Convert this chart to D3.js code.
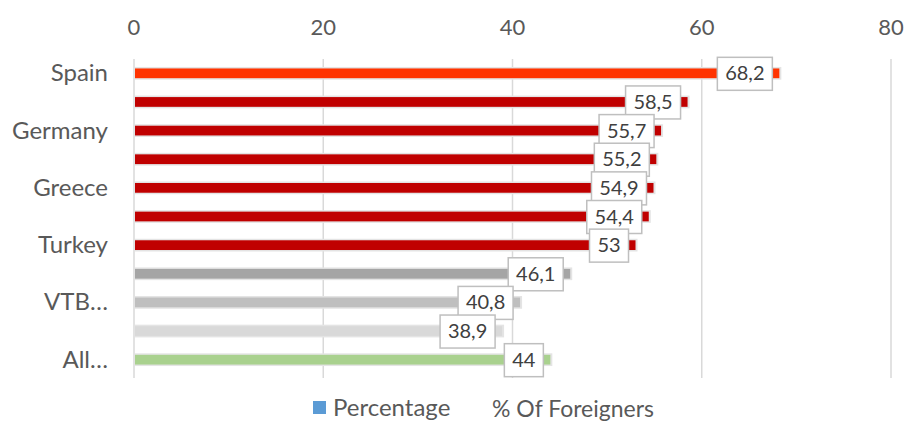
<html>
<script src="https://d3js.org/d3.v7.min.js"></script>
<style>
body { margin: 0; background: white; }
text { font-family: Lato, "Open Sans", sans-serif; fill: #595959; }
</style>
<body>
<svg width="906" height="423"></svg>
<script>
// chart data
var categories = ["Spain", "Italy", "Germany", "France", "Greece", "Israel", "Turkey", "Russia", "VTB…", "Lithuania", "All…"];
var showLabel = [true, false, true, false, true, false, true, false, true, false, true];
var values = [68.2, 58.5, 55.7, 55.2, 54.9, 54.4, 53, 46.1, 40.8, 38.9, 44];
var labels = ["68,2", "58,5", "55,7", "55,2", "54,9", "54,4", "53", "46,1", "40,8", "38,9", "44"];
var colors = ["#ff3300", "#c00000", "#c00000", "#c00000", "#c00000", "#c00000", "#c00000", "#a5a5a5", "#bfbfbf", "#d9d9d9", "#a9d18e"];
var xTicks = [0, 20, 40, 60, 80];

var data = categories.map(function(c, i) {
  return {name: c, show: showLabel[i], value: values[i], label: labels[i], color: colors[i]};
});

var svg = d3.select("svg");

var x = d3.scaleLinear().domain([0, 80]).range([134, 891]);
var y = d3.scaleBand().domain(categories).range([59, 374]).paddingInner(0.66).paddingOuter(0.33);

// gridlines
svg.append("g").selectAll("line")
  .data(xTicks)
  .enter().append("line")
    .attr("x1", d => x(d)).attr("x2", d => x(d))
    .attr("y1", 59).attr("y2", 378)
    .style("stroke", "#d9d9d9")
    .style("stroke-width", 1.5);

// top tick labels
svg.append("g").selectAll("text")
  .data(xTicks)
  .enter().append("text")
    .attr("x", d => x(d))
    .attr("y", 35)
    .attr("text-anchor", "middle")
    .style("font-size", "22px")
    .text(d => d);

// category labels
svg.append("g").selectAll("text")
  .data(data.filter(d => d.show))
  .enter().append("text")
    .attr("x", 108)
    .attr("y", d => y(d.name) + y.bandwidth() / 2 + 8)
    .attr("text-anchor", "end")
    .style("font-size", "24px")
    .text(d => d.name);

// bars with faint glow
var bars = svg.append("g");
bars.selectAll("rect.glow")
  .data(data)
  .enter().append("rect")
    .attr("x", x(0) + 1)
    .attr("y", d => y(d.name) - 1.5)
    .attr("width", d => x(d.value) - x(0) + 1)
    .attr("height", y.bandwidth() + 3)
    .attr("fill", "#e4e4e4");
bars.selectAll("rect.bar")
  .data(data)
  .enter().append("rect")
    .attr("x", x(0) + 1)
    .attr("y", d => y(d.name))
    .attr("width", d => x(d.value) - x(0) - 1)
    .attr("height", y.bandwidth())
    .attr("fill", d => d.color);

// data labels in boxes
var lab = svg.append("g").selectAll("g")
  .data(data)
  .enter().append("g")
    .attr("transform", d => "translate(" + (x(d.value) - 7) + "," + (y(d.name) + y.bandwidth() / 2) + ")");
lab.append("rect")
  .attr("x", d => d.label.length > 2 ? -55 : -39)
  .attr("y", -16)
  .attr("width", d => d.label.length > 2 ? 55 : 39)
  .attr("height", 33)
  .attr("fill", "white")
  .attr("stroke", "#bfbfbf")
  .attr("stroke-width", 1.5);
lab.append("text")
  .attr("x", d => d.label.length > 2 ? -27.5 : -19.5)
  .attr("y", 7)
  .attr("text-anchor", "middle")
  .style("font-size", "20px")
  .style("fill", "#404040")
  .text(d => d.label);

// legend
svg.append("rect")
  .attr("x", 313).attr("y", 401)
  .attr("width", 13).attr("height", 13)
  .attr("fill", "#5b9bd5");
svg.append("text")
  .attr("x", 333).attr("y", 416)
  .style("font-size", "24px")
  .text("Percentage");
svg.append("text")
  .attr("x", 492).attr("y", 417)
  .style("font-size", "23px")
  .text("% Of Foreigners");
</script>
</body>
</html>
